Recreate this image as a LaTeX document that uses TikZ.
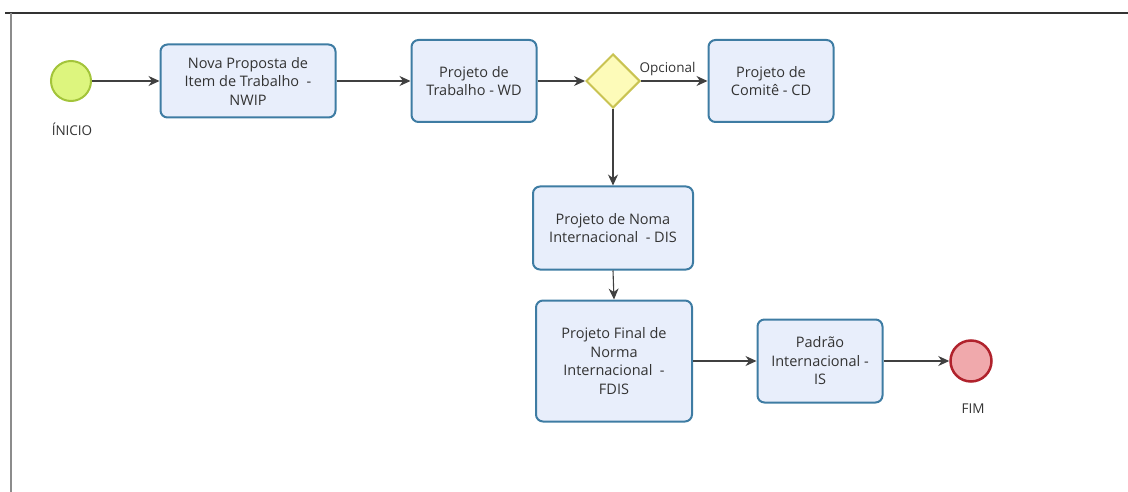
\documentclass[tikz,border=0pt]{standalone}
\usepackage{fontspec}
\setmainfont{Open Sans}
\usetikzlibrary{shapes.geometric,arrows.meta}
\definecolor{boxfill}{HTML}{E8EEFB}
\definecolor{boxline}{HTML}{3E7CA3}
\definecolor{startfill}{HTML}{DDF57E}
\definecolor{startline}{HTML}{A3C43A}
\definecolor{endfill}{HTML}{F0A9AC}
\definecolor{endline}{HTML}{B0222C}
\definecolor{gatefill}{HTML}{FDFBB9}
\definecolor{gateline}{HTML}{C9C352}
\definecolor{conn}{HTML}{404040}
\tikzset{
  task/.style={draw=boxline, fill=boxfill, line width=2pt, rounded corners=7pt,
    align=center, font=\fontsize{14.5}{18.5}\selectfont, text=black!80, inner sep=0pt},
  flow/.style={draw=conn, line width=1.1pt, -{Stealth[length=11pt,width=10pt]}},
  lbl/.style={font=\fontsize{13.5}{15}\selectfont, text=black!80}
}
\begin{document}
\begin{tikzpicture}[x=1pt,y=-1pt]
\useasboundingbox (0,0) rectangle (1128,492);
\draw[black!80, line width=1.2pt] (5,13) -- (1128,13);
\draw[black!45, line width=2pt] (11,13) -- (11,492);

\node[circle, draw=startline, fill=startfill, line width=2pt, minimum size=40pt, inner sep=0pt] (start) at (71,81) {};
\node[lbl] (startl) at (72,129) {ÍNICIO};

\node[task, minimum width=175pt, minimum height=73pt] (nwip) at (248,81) {Nova Proposta de\\Item de Trabalho~~-\\NWIP};
\node[task, minimum width=125pt, minimum height=82pt] (wd) at (474,81) {Projeto de\\Trabalho - WD};
\node[diamond, draw=gateline, fill=gatefill, line width=2pt, minimum width=54pt, minimum height=54pt, inner sep=0pt] (gw) at (613,81) {};
\node[task, minimum width=125pt, minimum height=82pt] (cd) at (771,81) {Projeto de\\Comitê - CD};
\node[task, minimum width=160pt, minimum height=83pt] (dis) at (613,228) {Projeto de Noma\\Internacional~~- DIS};
\node[task, minimum width=156pt, minimum height=121pt] (fdis) at (614,361) {Projeto Final de\\Norma\\Internacional~~-\\FDIS};
\node[task, minimum width=125pt, minimum height=83pt] (is) at (820,361) {Padrão\\Internacional -\\IS};
\node[circle, draw=endline, fill=endfill, line width=2.5pt, minimum size=41pt, inner sep=0pt] (end) at (971,361) {};
\node[lbl] (endl) at (973,409) {FIM};

\draw[flow] (start) -- (nwip);
\draw[flow] (nwip) -- (wd);
\draw[flow] (wd.east) -- (gw.west);
\draw[flow] (gw.east) -- node[lbl, above=1pt, pos=0.4] (opc) {Opcional} (cd.west);
\draw[flow] (gw.south) -- (dis.north);
\draw[flow] (dis.south) -- (fdis.north);
\draw[flow] (fdis.east |- is.west) -- (is.west);
\draw[flow] (is.east) -- (end.west);
\end{tikzpicture}
\end{document}
